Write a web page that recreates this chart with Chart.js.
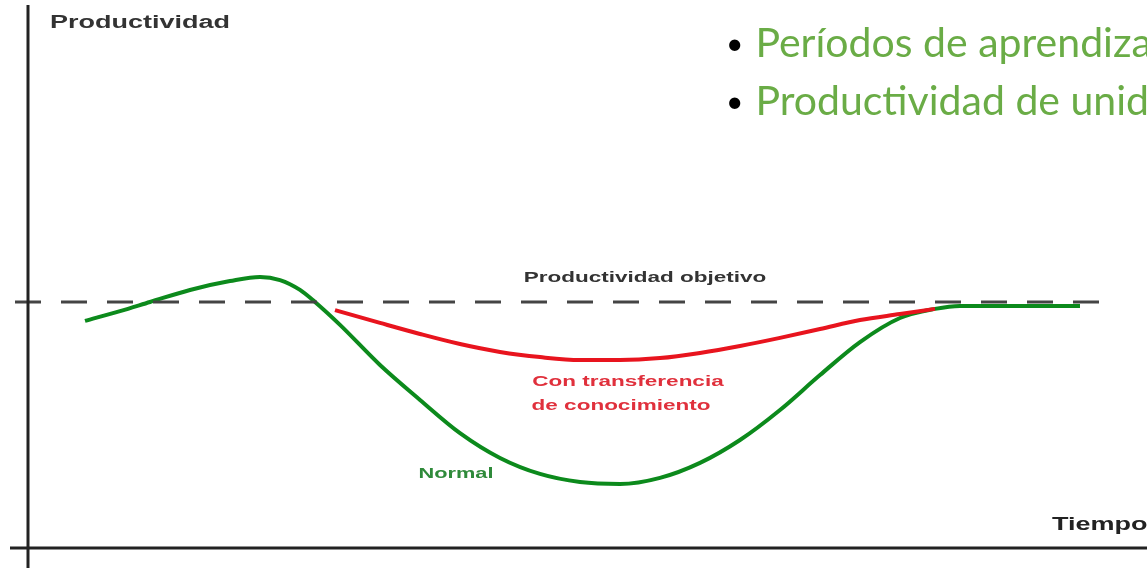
<!DOCTYPE html>
<html>
<head>
<meta charset="utf-8">
<script src="https://cdn.jsdelivr.net/npm/chart.js@4.4.0/dist/chart.umd.min.js"></script>
<style>
  html, body { margin: 0; padding: 0; background: #fff; }
  #wrap { position: relative; width: 1147px; height: 568px; overflow: hidden; }
  #bullets { position: absolute; left: 726px; top: 13px; margin: 0; padding: 0; list-style: none;
    font-family: Lato, "Open Sans", sans-serif; font-size: 41px; color: #6aac46; white-space: nowrap; }
  #bullets li { height: 58px; line-height: 58px; }
  #bullets li::before { content: "•"; color: #000; margin-right: 12px; font-size: 30px; vertical-align: 3px; }
</style>
</head>
<body>
<div id="wrap">
  <canvas id="curve" width="1147" height="568"></canvas>
  <ul id="bullets">
    <li>Períodos de aprendizaje</li>
    <li>Productividad de unidades</li>
  </ul>
</div>
<script>
// time (arbitrary units) and productivity (target = 100)
const normalTime = [5.7, 9.2, 12.2, 16.2, 20.2, 23.2, 25.2, 27.2, 28.7, 31.2, 35.2, 39.2, 43.2, 47.2, 51.2,
  55.2, 59.2, 63.2, 67.2, 71.2, 75.2, 79.2, 83.2, 87.2, 90.7, 93.2, 97.2, 105.2];
const normalProd = [92.3, 96.3, 100, 104.9, 108.5, 110.2, 108.9, 104.9, 100, 90.7, 74.4, 60.2, 46.7, 36.6, 30.1,
  26.8, 26.0, 28.5, 34.6, 43.9, 56.1, 70.3, 83.7, 93.5, 97.2, 98.4, 98.4, 98.4];

const transferTime = [30.7, 35.2, 39.2, 43.2, 47.2, 51.2, 55.2, 59.2, 63.2, 67.2, 71.2, 75.2, 79.2, 83.2, 87.2, 90.7];
const transferProd = [96.7, 91.5, 87.0, 82.9, 79.7, 77.6, 76.4, 76.4, 77.2, 79.3, 82.1, 85.4, 89.0, 92.7, 95.1, 97.2];

const targetTime = [-1.3, 108.7];
const targetProd = 100;

const toPoints = (xs, ys) => xs.map((x, i) => ({ x: x, y: Array.isArray(ys) ? ys[i] : ys }));

// axis lines + text labels placed in data coordinates
const decorPlugin = {
  id: "decor",
  afterDatasetsDraw(chart) {
    const { ctx, scales: { x, y } } = chart;
    const x0 = x.getPixelForValue(0);
    const y0 = y.getPixelForValue(0);
    ctx.save();
    ctx.strokeStyle = "#222";
    ctx.lineWidth = 3;
    ctx.beginPath();
    ctx.moveTo(x0, 5);
    ctx.lineTo(x0, chart.height);
    ctx.moveTo(x.getPixelForValue(-1.8), y0);
    ctx.lineTo(chart.width, y0);
    ctx.stroke();

    // the old scanned labels are wide and heavy, so stretch them sideways
    const label = (txt, tx, ty, color, size, stretch, align) => {
      ctx.save();
      ctx.fillStyle = color;
      ctx.font = "bold " + size + "px 'Liberation Sans', Arial, sans-serif";
      ctx.textAlign = align || "center";
      ctx.textBaseline = "middle";
      ctx.translate(x.getPixelForValue(tx), y.getPixelForValue(ty));
      ctx.scale(stretch, 1);
      ctx.fillText(txt, 0, 0);
      ctx.restore();
    };
    label("Productividad", 2.2, 213.5, "#333", 18, 1.5, "left");
    label("Tiempo", 102.4, 9.5, "#222", 18, 1.5, "left");
    label("Productividad objetivo", 61.7, 109.8, "#333", 15, 1.5);
    label("Con transferencia", 60.0, 67.5, "#e0303c", 15, 1.5);
    label("de conocimiento", 59.3, 57.7, "#e0303c", 15, 1.5);
    label("Normal", 42.8, 30.1, "#2f8a3a", 15, 1.45);
    ctx.restore();
  }
};

new Chart(document.getElementById("curve"), {
  type: "line",
  data: {
    datasets: [
      {
        label: "Productividad objetivo",
        data: toPoints(targetTime, targetProd),
        borderColor: "#444",
        borderWidth: 3,
        borderDash: [26, 20],
        pointRadius: 0
      },
      {
        label: "Con transferencia de conocimiento",
        data: toPoints(transferTime, transferProd),
        borderColor: "#e8141e",
        borderWidth: 4,
        cubicInterpolationMode: "monotone",
        pointRadius: 0
      },
      {
        label: "Normal",
        data: toPoints(normalTime, normalProd),
        borderColor: "#0c8a1c",
        borderWidth: 4,
        cubicInterpolationMode: "monotone",
        pointRadius: 0
      }
    ]
  },
  options: {
    responsive: false,
    animation: false,
    layout: { padding: 0 },
    plugins: { legend: { display: false }, tooltip: { enabled: false } },
    scales: {
      x: { type: "linear", display: false, min: -2.8, max: 111.9 },
      y: { type: "linear", display: false, min: -8.13, max: 222.76 }
    }
  },
  plugins: [decorPlugin]
});
</script>
</body>
</html>
